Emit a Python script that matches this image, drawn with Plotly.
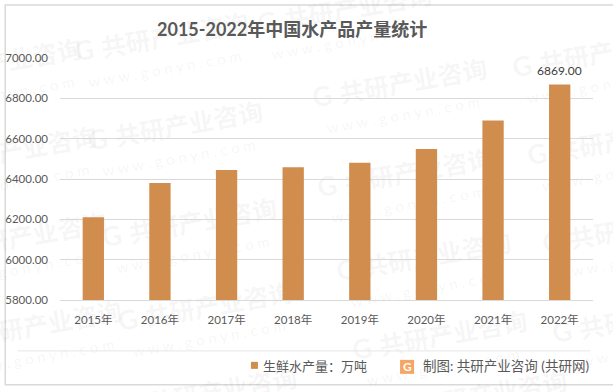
import plotly.graph_objects as go

W, H = 613, 392
L, R, T, B = 60.2, 592.8, 57.5, 300

years = ["2015年", "2016年", "2017年", "2018年", "2019年", "2020年", "2021年", "2022年"]
output = [6210, 6380, 6445, 6458, 6480, 6549, 6690, 6869]
y_ticks = [5800, 6000, 6200, 6400, 6600, 6800, 7000]
series_name = "生鲜水产量：万吨"
title_text = "2015-2022年中国水产品产量统计"
credit_text = "制图: 共研产业咨询 (共研网)"
wm_brand = "共研产业咨询"
wm_url = "w w w . g o n y n . c o m"
wm_centers = [(162, 36), (176, 125), (190, 222), (206, 306), (345, 8), (400, 82), (405, 172),
              (424, 256), (440, 335), (600, 52), (615, 140), (630, 228), (640, 318),
              (-5, 62), (10, 150), (20, 236), (35, 325), (210, 392), (480, 395)]

FONT = "Lato, 'Noto Sans CJK SC', sans-serif"
GREY = "#595959"


def px(x):
    return (x - L) / (R - L)


def py(y):
    return (B - y) / (B - T)


def wm_shape(text, cx, cy, size, color, weight=700):
    return dict(type="rect", xref="paper", yref="paper", x0=px(cx - 2), x1=px(cx + 2), y0=py(cy - 2), y1=py(cy + 2),
                line=dict(width=0), fillcolor="rgba(0,0,0,0)", layer="below",
                label=dict(text=text, textangle=-10, textposition="middle center",
                           font=dict(family=FONT, size=size, color=color, weight=weight)))


def note(text, x, y, size, color=GREY, xanchor="center"):
    return dict(text=text, x=px(x), y=py(y), xref="paper", yref="paper", showarrow=False,
                xanchor=xanchor, yanchor="middle", font=dict(family=FONT, size=size, color=color))


fig = go.Figure(go.Bar(
    x=years, y=output, name=series_name, cliponaxis=False,
    marker=dict(color="#D18D4E", line=dict(width=0)), showlegend=False,
))

shapes = [
    dict(type="rect", xref="paper", yref="paper", x0=px(5.5), x1=px(616), y0=py(4.5), y1=py(385),
         line=dict(color="#D9D9D9", width=1.5), layer="below"),
]
for cx, cy in wm_centers:
    shapes.append(wm_shape(wm_brand, cx + 13, cy - 2, 25, "rgba(120,120,120,0.07)"))
    shapes.append(wm_shape("G", cx - 78, cy + 13, 27, "rgba(120,120,120,0.07)"))
    shapes.append(wm_shape(wm_url, cx + 3, cy + 32, 15, "rgba(120,120,120,0.07)", 400))
shapes += [
    dict(type="line", xref="paper", yref="paper", x0=px(18), x1=px(590), y0=py(351), y1=py(351),
         line=dict(color="#E6E6E6", width=1), layer="below"),
    dict(type="rect", xref="paper", yref="paper", x0=px(251), x1=px(258), y0=py(362), y1=py(369),
         line=dict(width=0), fillcolor="#D18D4E"),
    dict(type="rect", xref="paper", yref="paper", x0=px(400), x1=px(414), y0=py(360), y1=py(374),
         line=dict(width=0), fillcolor="#F6A562"),
]
annotations = [
    note(f"<b>{title_text}</b>", 292.5, 28.5, 18),
    note(series_name, 261, 366, 13, xanchor="left"),
    note(credit_text, 591, 366, 13.5, xanchor="right"),
    note("<b>G</b>", 407, 367, 12, color="#FFFFFF"),
    dict(text=f"{output[-1]:.2f}", x=years[-1], y=output[-1], xref="x", yref="y", showarrow=False,
         xanchor="center", yanchor="middle", yshift=14, font=dict(family=FONT, size=12, color="#404040")),
]

fig.update_layout(
    width=W, height=H, autosize=False, paper_bgcolor="white", plot_bgcolor="rgba(0,0,0,0)",
    margin=dict(l=L, r=W - R, t=T, b=H - B),
    bargap=0.68, showlegend=False, annotations=annotations, shapes=shapes,
    font=dict(family=FONT, size=12, color=GREY),
    xaxis=dict(type="category", automargin=False, showgrid=False, ticks="", showline=True,
               linecolor="#D9D9D9", linewidth=1,
               tickfont=dict(family=FONT, size=11.5, color=GREY), ticklabelstandoff=9),
    yaxis=dict(range=[5800, 7000], automargin=False, tickvals=y_ticks, ticktext=[f"{v}.00" for v in y_ticks],
               ticks="", showgrid=True, gridcolor="#D9D9D9", gridwidth=1, zeroline=False, showline=False,
               tickfont=dict(family=FONT, size=11.5, color=GREY), ticklabelstandoff=11),
)
fig.write_html("out.html", config=dict(displayModeBar=False),
               post_script="document.body.style.margin='0';document.body.style.overflow='hidden';")
